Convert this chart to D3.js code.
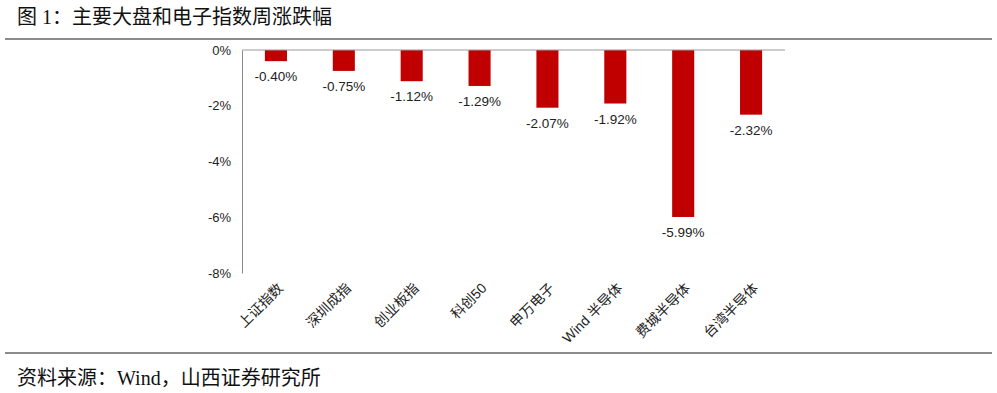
<!DOCTYPE html>
<html><head><meta charset="utf-8">
<script src="https://cdn.jsdelivr.net/npm/d3@7"></script>
<style>body{margin:0;background:#fff;} svg{display:block;}</style>
</head><body>
<svg id="c" width="997" height="393"></svg>
<script>
const categories = ["上证指数","深圳成指","创业板指","科创50","申万电子","Wind 半导体","费城半导体","台湾半导体"];
const values = [-0.40,-0.75,-1.12,-1.29,-2.07,-1.92,-5.99,-2.32];
const yTicks = [0,-2,-4,-6,-8];
const titleText = "图 1：主要大盘和电子指数周涨跌幅";
const sourceText = "资料来源：Wind，山西证券研究所";

const svg = d3.select("#c");
const ff = "'Liberation Sans', Arial, 'Noto Sans CJK SC', sans-serif";
const serif = "'Liberation Serif','Times New Roman','Noto Sans CJK SC', serif";

svg.append("text").attr("x",17).attr("y",24).attr("font-family",serif).attr("font-size",20).attr("fill","#111").text(titleText);
svg.append("line").attr("x1",5).attr("x2",992).attr("y1",39).attr("y2",39).attr("stroke","#666").attr("stroke-width",1.5);
svg.append("line").attr("x1",5).attr("x2",992).attr("y1",353).attr("y2",353).attr("stroke","#666").attr("stroke-width",1.5);
svg.append("text").attr("x",17).attr("y",385).attr("font-family",serif).attr("font-size",20).attr("fill","#111").text(sourceText);

const x = d3.scaleBand().domain(categories).range([242,785]).paddingInner(0.675).paddingOuter(0.3375);
const y = d3.scaleLinear().domain([-8,0]).range([273,50]);

// y axis
const ya = svg.append("g").attr("transform","translate(242,0)")
  .call(d3.axisLeft(y).tickValues(yTicks).tickFormat(d=>d+"%").tickSize(0).tickPadding(11));
ya.select(".domain").attr("stroke","#888");
ya.selectAll("text").attr("font-family",ff).attr("font-size",13).attr("fill","#222");

// bars
svg.append("g").selectAll("rect").data(values).join("rect")
  .attr("x",(d,i)=>x(categories[i])).attr("width",x.bandwidth())
  .attr("y",y(0)).attr("height",d=>y(d)-y(0)).attr("fill","#c00000");

// zero line
svg.append("line").attr("x1",242).attr("x2",785).attr("y1",y(0)).attr("y2",y(0)).attr("stroke","#999").attr("stroke-width",1);

// value labels
svg.append("g").selectAll("text").data(values).join("text")
  .attr("x",(d,i)=>x(categories[i])+x.bandwidth()/2).attr("y",d=>y(d)+20)
  .attr("text-anchor","middle").attr("font-family",ff).attr("font-size",13.5).attr("fill","#222")
  .text(d=>d.toFixed(2)+"%");

// category labels
svg.append("g").selectAll("text").data(categories).join("text")
  .attr("transform",d=>`translate(${x(d)+x.bandwidth()/2+8},${289}) rotate(-45)`)
  .attr("text-anchor","end").attr("font-family",ff).attr("font-size",14).attr("fill","#222")
  .text(d=>d);
</script>
</body></html>
